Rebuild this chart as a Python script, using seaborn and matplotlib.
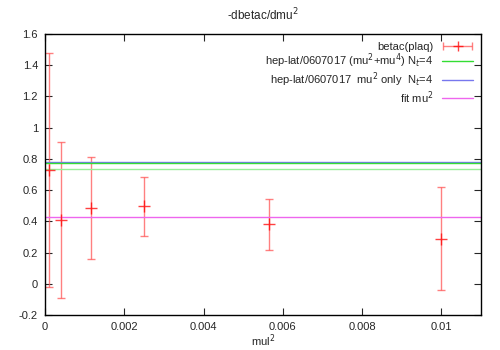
import numpy as np
import pandas as pd
import seaborn as sns
import matplotlib.pyplot as plt
from matplotlib.ticker import FuncFormatter, MultipleLocator
from matplotlib.legend_handler import HandlerErrorbar

# data
mul2 = [0.0001, 0.0004, 0.00116, 0.0025, 0.00564, 0.01]
betac = [0.73, 0.41, 0.485, 0.497, 0.38, 0.288]
err = [0.75, 0.50, 0.325, 0.19, 0.165, 0.33]

green_levels = [0.774, 0.736]
blue_level = 0.781
fit_level = 0.427

sns.set_theme(style="ticks")
plt.rcParams['font.family'] = ['Liberation Sans', 'DejaVu Sans']

fig = plt.figure(figsize=(5, 3.5), dpi=100)
ax = fig.add_axes([0.09, 0.1, 0.872, 0.803])

df = pd.DataFrame({'mul2': mul2, 'betac': betac, 'err': err})
ax.errorbar(df['mul2'], df['betac'], yerr=df['err'], fmt='+', color='#ff0000',
            ecolor='#ff5555', elinewidth=1.0, capsize=3, markersize=9,
            alpha=0.75)
# proxy for a gnuplot-style key entry (horizontal bar with caps)
ax.errorbar([np.nan], [np.nan], xerr=[1], fmt='+', color='#ff0000',
            ecolor='#ff5555', elinewidth=1.0, capsize=3, markersize=7,
            alpha=0.75, label='betac(plaq)')

xs = [0, 0.011]
sns.lineplot(x=xs, y=[blue_level] * 2, ax=ax, color='#7777ee', lw=1,
             label='hep-lat/0607017  mu$^2$ only  N$_t$=4')
sns.lineplot(x=xs, y=[green_levels[0]] * 2, ax=ax, color='#33dd33', lw=1,
             label='hep-lat/0607017 (mu$^2$+mu$^4$) N$_t$=4')
sns.lineplot(x=xs, y=[green_levels[1]] * 2, ax=ax, color='#99ee99', lw=1)
sns.lineplot(x=xs, y=[fit_level] * 2, ax=ax, color='#ee66ee', lw=1,
             label='fit mu$^2$')

ax.set_xlim(0, 0.011)
ax.set_ylim(-0.2, 1.6)
ax.xaxis.set_major_locator(MultipleLocator(0.002))
ax.yaxis.set_major_locator(MultipleLocator(0.2))
fmt = FuncFormatter(lambda v, p: '%g' % round(v, 6))
ax.xaxis.set_major_formatter(fmt)
ax.yaxis.set_major_formatter(fmt)
ax.tick_params(direction='in', top=True, right=True, labelsize=8, length=5,
               width=0.8, pad=5)
for s in ax.spines.values():
    s.set_linewidth(1.0)
    s.set_color('black')

ax.set_xlabel('mul$^2$', fontsize=8, labelpad=0)
ax.set_ylabel('')
ax.set_title('-dbetac/dmu$^2$', fontsize=8.5, pad=10)

handles, labels = ax.get_legend_handles_labels()
want = ['betac(plaq)', 'hep-lat/0607017 (mu$^2$+mu$^4$) N$_t$=4',
        'hep-lat/0607017  mu$^2$ only  N$_t$=4', 'fit mu$^2$']
order = [labels.index(l) for l in want]
ax.legend([handles[i] for i in order], [labels[i] for i in order],
          loc='upper right', frameon=False, markerfirst=False, fontsize=8,
          handlelength=2.8, labelspacing=0.0, borderaxespad=0.3,
          handletextpad=0.8,
          handler_map={type(handles[order[0]]): HandlerErrorbar(xerr_size=1.3)})

fig.savefig('out.png', dpi=100)
